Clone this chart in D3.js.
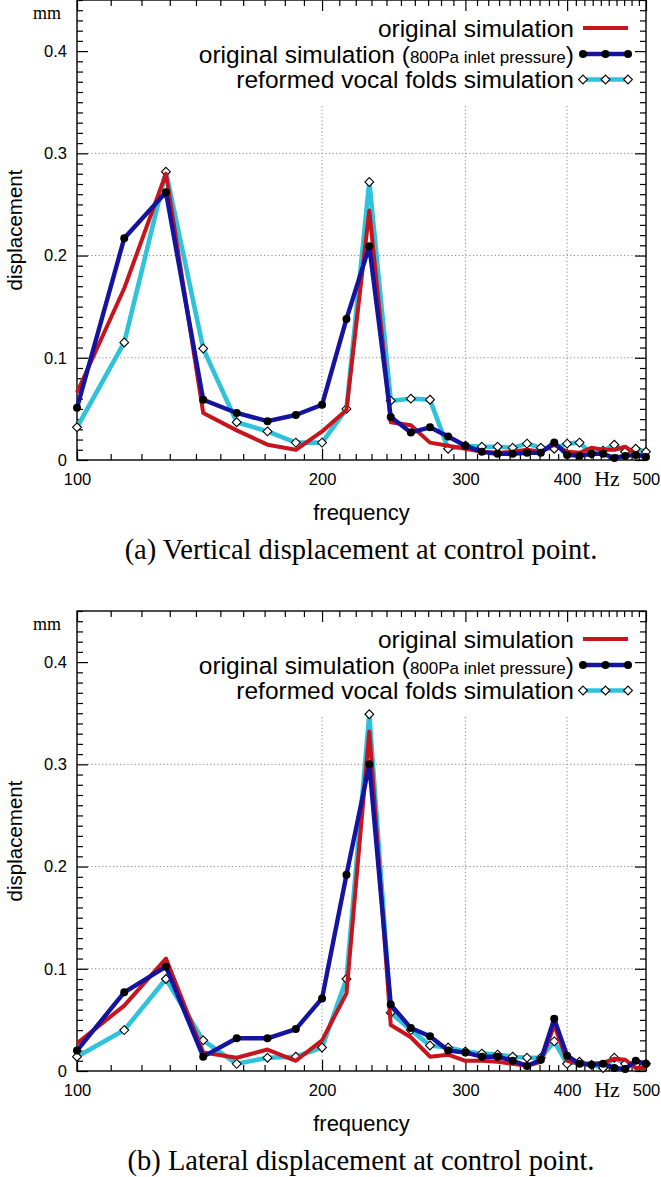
<!DOCTYPE html>
<html><head><meta charset="utf-8">
<script src="https://cdn.jsdelivr.net/npm/d3@7"></script>
<style>body{margin:0;background:#fff}</style>
</head><body>
<svg id="chart" width="661" height="1177" xmlns="http://www.w3.org/2000/svg"></svg>
<script>
const frequencies = [100,114.3,128.6,142.9,157.1,171.4,185.7,200,214.3,228.6,242.9,257.1,271.4,285.7,300,314.3,328.6,342.9,357.1,371.4,385.7,400,414.3,428.6,442.9,457.1,471.4,485.7,500];
const verticalOriginal = [0.066,0.168,0.280,0.046,0.029,0.015,0.010,0.028,0.049,0.244,0.037,0.034,0.017,0.014,0.011,0.008,0.007,0.008,0.010,0.008,0.015,0.008,0.007,0.012,0.010,0.010,0.013,0.006,0.004];
const verticalPressure = [0.051,0.217,0.262,0.059,0.046,0.038,0.044,0.054,0.138,0.209,0.042,0.027,0.032,0.023,0.014,0.008,0.006,0.006,0.007,0.007,0.017,0.005,0.004,0.006,0.006,0.002,0.004,0.005,0.003];
const verticalReformed = [0.032,0.115,0.282,0.109,0.037,0.028,0.017,0.017,0.050,0.272,0.058,0.060,0.059,0.011,0.014,0.013,0.013,0.012,0.016,0.012,0.011,0.016,0.017,0.006,0.009,0.015,0.008,0.011,0.008];
const lateralOriginal = [0.027,0.064,0.110,0.018,0.013,0.021,0.010,0.030,0.076,0.332,0.045,0.033,0.014,0.016,0.010,0.010,0.009,0.007,0.005,0.009,0.045,0.010,0.007,0.007,0.008,0.012,0.011,0.003,0.003];
const lateralPressure = [0.020,0.077,0.102,0.014,0.032,0.032,0.041,0.071,0.192,0.300,0.065,0.042,0.034,0.020,0.018,0.014,0.014,0.010,0.005,0.011,0.051,0.015,0.007,0.006,0.007,0.003,0.002,0.010,0.007];
const lateralReformed = [0.014,0.040,0.090,0.030,0.007,0.013,0.014,0.023,0.090,0.349,0.057,0.040,0.025,0.023,0.019,0.017,0.016,0.014,0.013,0.013,0.029,0.007,0.009,0.006,0.003,0.013,0.007,0.006,0.007];
const xTickValues = [100,200,300,400,500];
const yTickValues = [0,0.1,0.2,0.3,0.4];
const xGridValues = [200,300,400];
const yGridValues = [0.1,0.2,0.3];
const legendLabels = ["original simulation","original simulation (","reformed vocal folds simulation"];
const legendSmallLabel = "800Pa inlet pressure";
const captions = ["(a) Vertical displacement at control point.","(b) Lateral displacement at control point."];
const xLabel = "frequency", yLabel = "displacement", xUnit = "Hz", yUnit = "mm";

const C_RED = "#c8141c", C_BLUE = "#1414a0", C_CYAN = "#2ec3db";
const SANS = "Liberation Sans", SERIF = "Liberation Serif";
const svg = d3.select("#chart");
const X0 = 77, X1 = 646;
const x = d3.scaleLog().domain([100,500]).range([X0,X1]);
const minorX = d3.range(110,500,10).filter(v => v % 100 !== 0);
const minorY = d3.range(1,45).map(i => i/100).filter(v => Math.round(v*100) % 10 !== 0).concat([0.45]);

const panels = [
  {top:0, bottom:460, orig:verticalOriginal, pres:verticalPressure, ref:verticalReformed, caption:captions[0]},
  {top:611, bottom:1071, orig:lateralOriginal, pres:lateralPressure, ref:lateralReformed, caption:captions[1]}
];

panels.forEach(p => {
  const y = d3.scaleLinear().domain([0,0.45]).range([p.bottom,p.top]);
  const g = svg.append("g");
  // grid
  g.selectAll(".hg").data(yGridValues).join("line")
    .attr("x1",X0).attr("x2",X1).attr("y1",d=>y(d)).attr("y2",d=>y(d))
    .attr("stroke","#888").attr("stroke-width",1).attr("stroke-dasharray","1.2,2.4");
  g.selectAll(".vg").data(xGridValues).join("line")
    .attr("x1",d=>x(d)).attr("x2",d=>x(d)).attr("y1",y(0)).attr("y2",y(0.348))
    .attr("stroke","#888").attr("stroke-width",1).attr("stroke-dasharray","1.2,2.4");

  // axes ticks (inward)
  const mk = (axisFn, scale, vals, size, fmt) => axisFn(scale).tickValues(vals).tickSize(size).tickSizeOuter(0).tickFormat(fmt);
  const addAxis = (axis, tr) => {
    const a = g.append("g").attr("transform",tr).call(axis);
    a.select(".domain").remove();
    a.selectAll("line").attr("stroke","#000").attr("stroke-width",1.2);
    a.selectAll("text").attr("font-family",SANS).attr("font-size",16.5).attr("fill","#000");
    return a;
  };
  addAxis(mk(d3.axisBottom,x,minorX,-6,""),`translate(0,${p.bottom})`);
  addAxis(mk(d3.axisTop,x,minorX,-6,""),`translate(0,${p.top})`);
  addAxis(mk(d3.axisTop,x,xTickValues,-11,""),`translate(0,${p.top})`);
  addAxis(mk(d3.axisBottom,x,xTickValues,-11,d3.format("d")).tickPadding(13),`translate(0,${p.bottom})`);
  addAxis(mk(d3.axisLeft,y,minorY,-6,""),`translate(${X0},0)`);
  addAxis(mk(d3.axisRight,y,minorY,-6,""),`translate(${X1},0)`);
  addAxis(mk(d3.axisRight,y,yTickValues,-11,""),`translate(${X1},0)`);
  addAxis(mk(d3.axisLeft,y,yTickValues,-11,d=> d===0?"0":d3.format(".1f")(d)).tickPadding(10),`translate(${X0},0)`);

  // frame
  g.append("rect").attr("x",X0).attr("y",p.top).attr("width",X1-X0).attr("height",p.bottom-p.top)
    .attr("fill","none").attr("stroke","#000").attr("stroke-width",1.4);

  // lines
  const line = vals => d3.line().x((d,i)=>x(frequencies[i])).y(d=>y(d))(vals);
  g.append("path").attr("d",line(p.ref)).attr("fill","none").attr("stroke",C_CYAN).attr("stroke-width",4.6).attr("stroke-linejoin","round");
  g.selectAll(".dia").data(p.ref).join("path")
    .attr("d",d3.symbol().type(d3.symbolDiamond2).size(50))
    .attr("transform",(d,i)=>`translate(${x(frequencies[i])},${y(d)})`)
    .attr("fill","#fff").attr("stroke","#000").attr("stroke-width",1.1);
  g.append("path").attr("d",line(p.orig)).attr("fill","none").attr("stroke",C_RED).attr("stroke-width",4).attr("stroke-linejoin","round");
  g.append("path").attr("d",line(p.pres)).attr("fill","none").attr("stroke",C_BLUE).attr("stroke-width",4.4).attr("stroke-linejoin","round");
  g.selectAll(".dot").data(p.pres).join("circle")
    .attr("cx",(d,i)=>x(frequencies[i])).attr("cy",d=>y(d)).attr("r",4).attr("fill","#000");

  // legend
  const rows = [p.top+28, p.top+54, p.top+79.5];
  const tx = 574, lx0 = 583, lx1 = 628;
  rows.forEach((ry,i) => {
    const t = g.append("text").attr("x",tx).attr("y",ry).attr("dy","0.36em").attr("text-anchor","end")
      .attr("font-family",SANS).attr("font-size",24.5).attr("fill","#000");
    if (i===1) {
      t.append("tspan").text(legendLabels[1]);
      t.append("tspan").attr("font-size",17).text(legendSmallLabel);
      t.append("tspan").text(")");
    } else t.text(legendLabels[i]);
  });
  g.append("line").attr("x1",lx0).attr("x2",lx1).attr("y1",rows[0]).attr("y2",rows[0]).attr("stroke",C_RED).attr("stroke-width",4);
  g.append("line").attr("x1",lx0).attr("x2",lx1).attr("y1",rows[1]).attr("y2",rows[1]).attr("stroke",C_BLUE).attr("stroke-width",4.4);
  g.selectAll(".ldot").data([lx0,(lx0+lx1)/2,lx1]).join("circle").attr("cx",d=>d).attr("cy",rows[1]).attr("r",4).attr("fill","#000");
  g.append("line").attr("x1",lx0).attr("x2",lx1).attr("y1",rows[2]).attr("y2",rows[2]).attr("stroke",C_CYAN).attr("stroke-width",4.6);
  g.selectAll(".ldia").data([lx0,(lx0+lx1)/2,lx1]).join("path")
    .attr("d",d3.symbol().type(d3.symbolDiamond2).size(50))
    .attr("transform",d=>`translate(${d},${rows[2]})`).attr("fill","#fff").attr("stroke","#000").attr("stroke-width",1.1);

  // labels
  g.append("text").attr("x",47).attr("y",p.top+14).attr("dy","0.3em").attr("text-anchor","middle")
    .attr("font-family",SERIF).attr("font-size",18).text(yUnit);
  g.append("text").attr("x",607).attr("y",p.bottom+18).attr("dy","0.35em").attr("text-anchor","middle")
    .attr("font-family",SERIF).attr("font-size",22).text(xUnit);
  g.append("text").attr("x",(X0+X1)/2).attr("y",p.bottom+52).attr("dy","0.35em").attr("text-anchor","middle")
    .attr("font-family",SANS).attr("font-size",22).text(xLabel);
  g.append("text").attr("transform",`translate(15,${(p.top+p.bottom)/2}) rotate(-90)`).attr("dy","0.35em").attr("text-anchor","middle")
    .attr("font-family",SANS).attr("font-size",20.5).text(yLabel);
  g.append("text").attr("x",361).attr("y",p.bottom+89).attr("dy","0.35em").attr("text-anchor","middle")
    .attr("font-family",SERIF).attr("font-size",28.5).text(p.caption);
});
</script>
</body></html>
